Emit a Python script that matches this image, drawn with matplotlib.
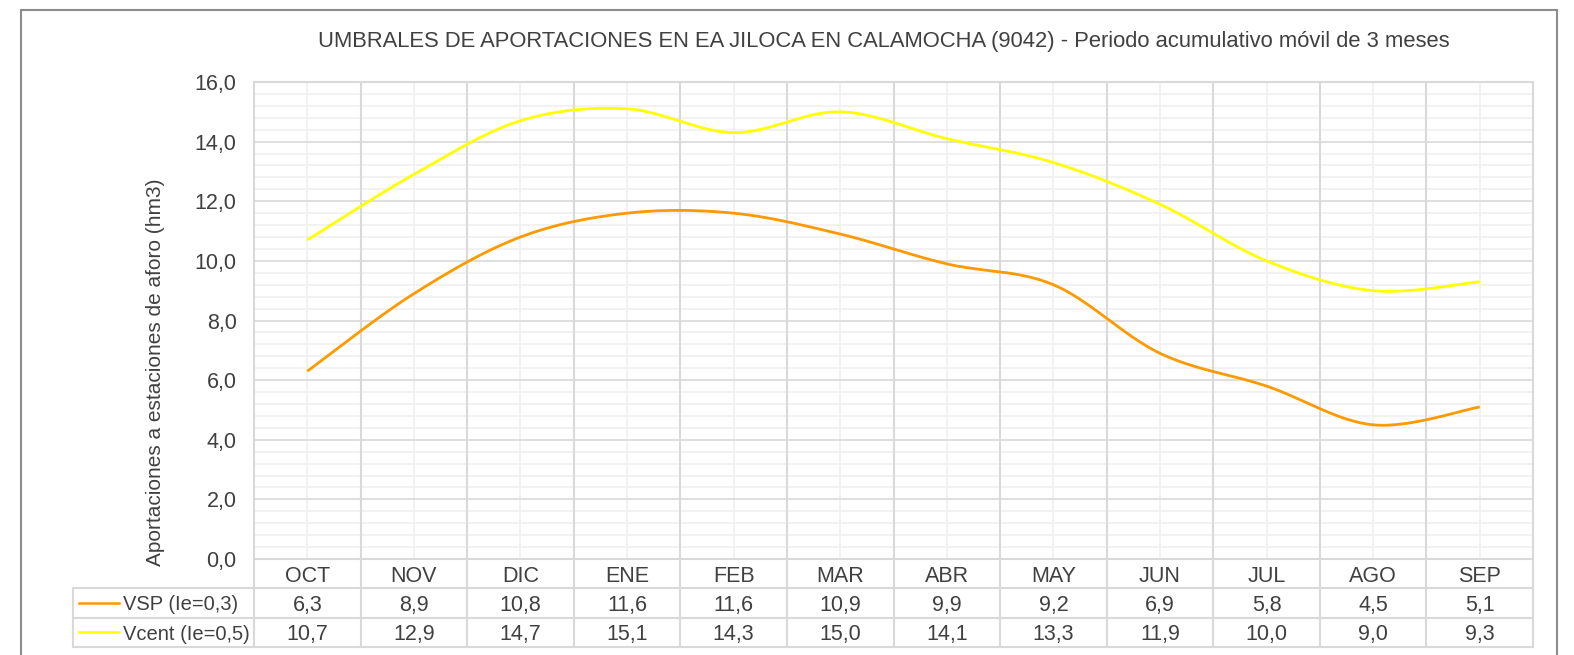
import numpy as np
import matplotlib
matplotlib.use('Agg')
import matplotlib.pyplot as plt
from matplotlib.patches import Rectangle
from matplotlib.transforms import blended_transform_factory

plt.rcParams['font.family'] = ['Liberation Sans', 'DejaVu Sans']

meses = ['OCT', 'NOV', 'DIC', 'ENE', 'FEB', 'MAR', 'ABR', 'MAY', 'JUN', 'JUL', 'AGO', 'SEP']
vsp = [6.3, 8.9, 10.8, 11.6, 11.6, 10.9, 9.9, 9.2, 6.9, 5.8, 4.5, 5.1]
vcent = [10.7, 12.9, 14.7, 15.1, 14.3, 15.0, 14.1, 13.3, 11.9, 10.0, 9.0, 9.3]
series_names = ['VSP (Ie=0,3)', 'Vcent (Ie=0,5)']
colores = ['#FF9900', '#FFFF00']
titulo = 'UMBRALES DE APORTACIONES EN EA JILOCA EN CALAMOCHA (9042) - Periodo acumulativo móvil de 3 meses'
ylabel = 'Aportaciones a estaciones de aforo (hm3)'

FS = 15.5
TXT = '#404040'


def suavizar(y, n=40):
    # curva tipo Excel: bezier con puntos de control Catmull-Rom
    x = np.arange(len(y), dtype=float)
    y = np.asarray(y, dtype=float)
    P = np.column_stack([x, y])
    pts = []
    for i in range(len(P) - 1):
        p0 = P[i - 1] if i > 0 else P[i]
        p1 = P[i]
        p2 = P[i + 1]
        p3 = P[i + 2] if i + 2 < len(P) else P[i + 1]
        c1 = p1 + (p2 - p0) / 6.0
        c2 = p2 - (p3 - p1) / 6.0
        t = np.linspace(0, 1, n)[:, None]
        b = (1 - t) ** 3 * p1 + 3 * (1 - t) ** 2 * t * c1 + 3 * (1 - t) * t ** 2 * c2 + t ** 3 * p2
        pts.append(b if i == 0 else b[1:])
    pts = np.vstack(pts)
    return pts[:, 0], pts[:, 1]


fig = plt.figure(figsize=(15.74, 6.55), dpi=100)
W, H = 1574, 655
L, R, T, B = 254, 1533, 82, 559
ax = fig.add_axes([L / W, 1 - B / H, (R - L) / W, (B - T) / H])

n = len(meses)
ax.set_xlim(-0.5, n - 0.5)
ax.set_ylim(0, 16)

gmaj = '#D9D9D9'
gmin = '#F0F0F0'
# rejilla
for v in np.arange(0, 16.01, 0.4):
    major = abs(v / 2 - round(v / 2)) < 1e-6
    if not major:
        ax.axhline(v, color=gmin, lw=1.2, zorder=0)
for i in range(n):
    ax.axvline(i, color=gmin, lw=1.2, zorder=0)
for v in np.arange(0, 16.01, 2):
    ax.axhline(v, color=gmaj, lw=1.2, zorder=1)

for s, c in zip([vsp, vcent], colores):
    xs, ys = suavizar(s)
    ax.plot(xs, ys, color=c, lw=2.0, zorder=3, solid_capstyle='butt')

for sp in ax.spines.values():
    sp.set_visible(False)
ax.set_xticks([])
ax.set_yticks(np.arange(0, 16.01, 2))
ax.set_yticklabels([('%.1f' % v).replace('.', ',') for v in np.arange(0, 16.01, 2)],
                   fontsize=FS, color=TXT)
ax.tick_params(axis='y', length=0, pad=12.5)
ax.set_ylabel(ylabel, fontsize=15, color=TXT)
ax.yaxis.set_label_coords((165 - L) / (R - L), (B - 372) / (B - T))

# tabla de datos
tr = blended_transform_factory(ax.transData, ax.transAxes)
hpx = B - T
row = 29.3 / hpx
x_izq = -0.5 - (L - 73) / ((R - L) / n)
lk = dict(color=gmaj, lw=1.5, transform=tr, clip_on=False, zorder=2)

# lineas verticales de categorias (prolongadas a la tabla)
for i in range(n + 1):
    ax.plot([i - 0.5, i - 0.5], [1, -3 * row], **lk)
ax.plot([x_izq, x_izq], [-row, -3 * row], **lk)
ax.plot([-0.5, n - 0.5], [1, 1], **lk)
ax.plot([-0.5, n - 0.5], [0, 0], **lk)
for k in (1, 2, 3):
    ax.plot([x_izq, n - 0.5], [-k * row, -k * row], **lk)

for i, m in enumerate(meses):
    ax.text(i, -0.5 * row, m, transform=tr, ha='center', va='center_baseline', fontsize=FS, color=TXT)
    for k, s in enumerate([vsp, vcent]):
        ax.text(i, -(1.5 + k) * row, ('%.1f' % s[i]).replace('.', ','), transform=tr,
                ha='center', va='center_baseline', fontsize=FS, color=TXT)

cw = (R - L) / n
for k, (nm, c) in enumerate(zip(series_names, colores)):
    yy = -(1.5 + k) * row
    x0 = -0.5 - (L - 79) / cw
    x1 = -0.5 - (L - 119) / cw
    ax.plot([x0, x1], [yy, yy], color=c, lw=1.8, transform=tr, clip_on=False, zorder=3)
    ax.text(-0.5 - (L - 123) / cw, yy, nm, transform=tr, ha='left', va='center_baseline',
            fontsize=14.5, color=TXT)

fig.text(884 / W, 1 - 41 / H, titulo, ha='center', va='center', fontsize=15.8, color=TXT)

# marco del grafico
fig.patches.append(Rectangle((21 / W, -0.1), (1557 - 21) / W, 1.1 - 10 / H,
                             transform=fig.transFigure, fill=False, edgecolor='#8C8C8C', lw=1.5))

fig.savefig('out.png', dpi=100, facecolor='white')
